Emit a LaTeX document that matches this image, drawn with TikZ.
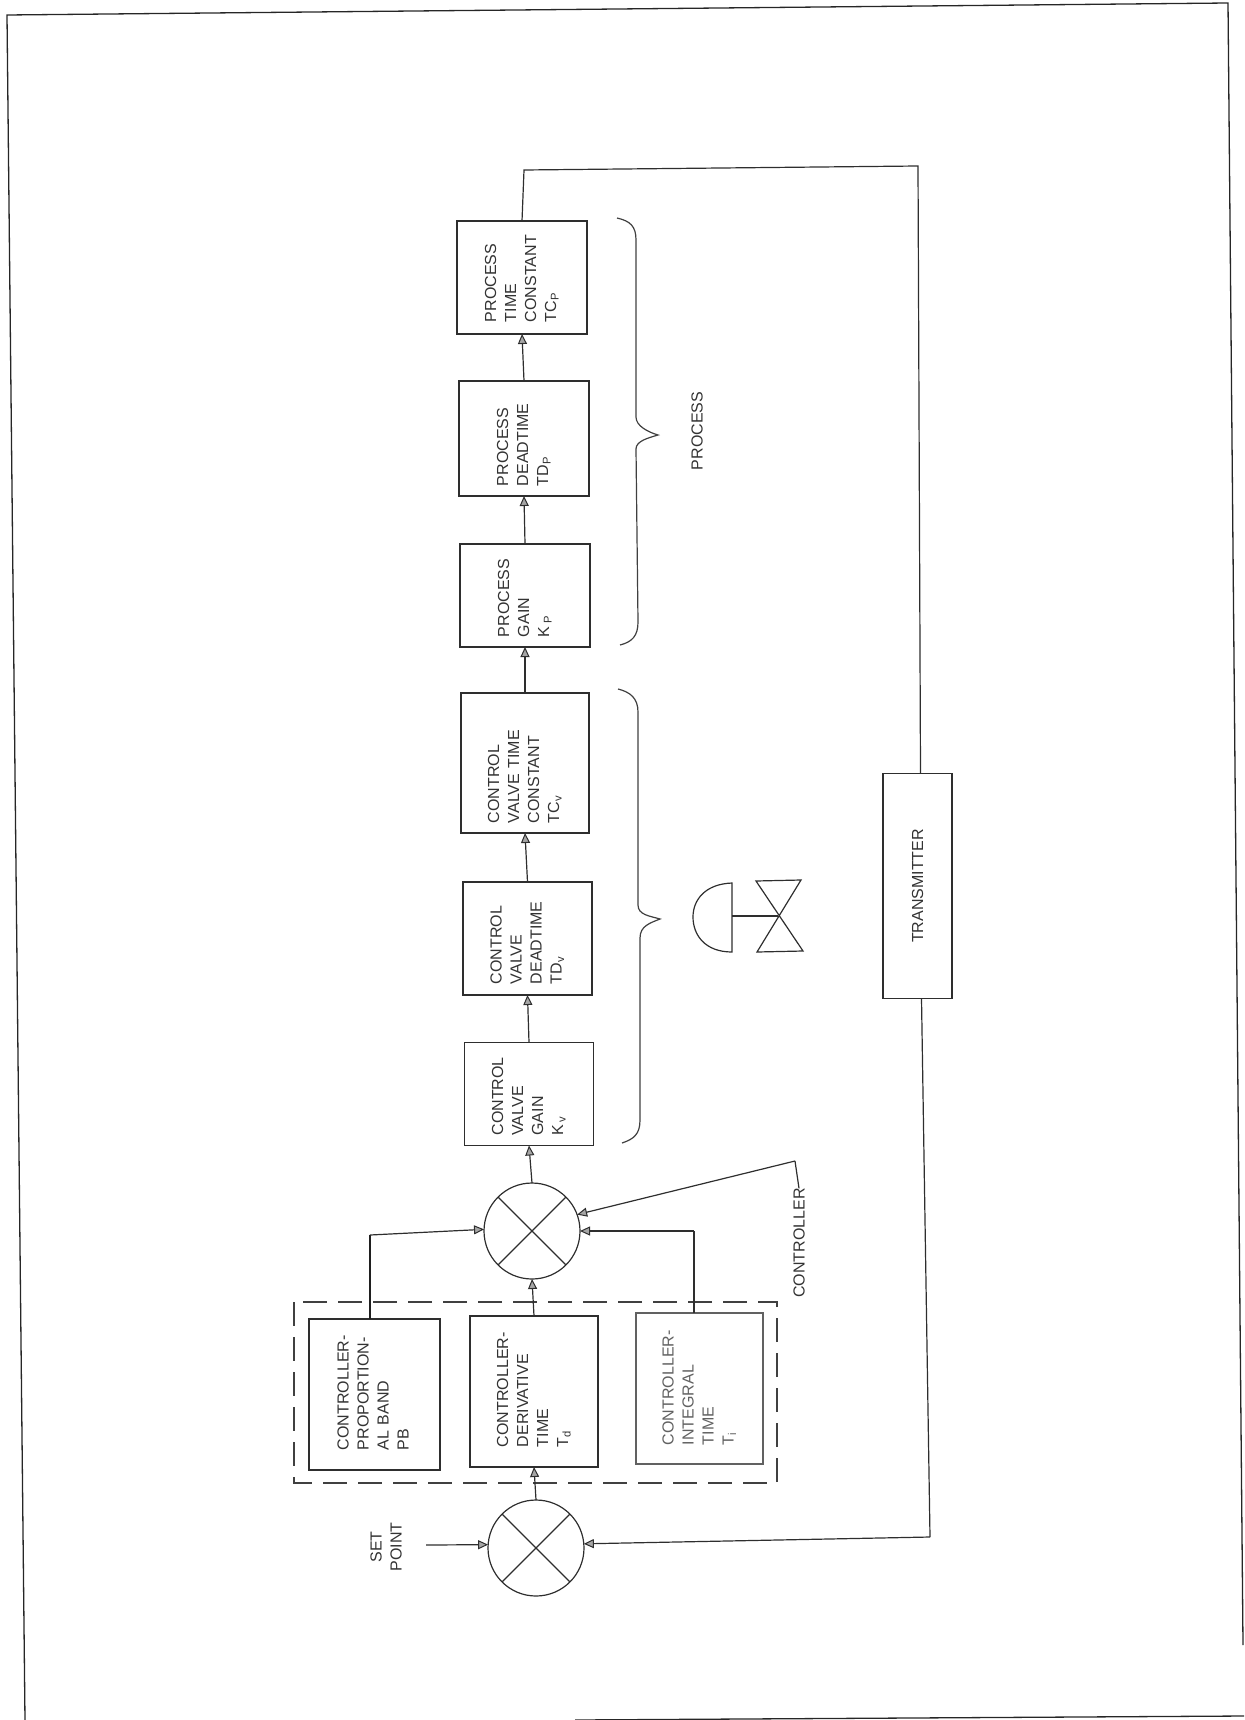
\documentclass[tikz,border=0pt]{standalone}
\usepackage{fontspec}
\setmainfont{Liberation Sans}
\usetikzlibrary{arrows.meta}
\newcommand\blklines[2]{\hspace*{#1pt}\begin{tabular}{@{}l@{}}#2\end{tabular}}
\tikzset{
  ink/.style={draw=black!82,line width=1.2pt},
  blk/.style 2 args={ink,rotate=90,minimum width=#1,minimum height=#2,text width=#1-4pt,
    inner xsep=2pt,inner ysep=0pt,outer sep=0pt,align=left,text=black!80,
    font=\fontsize{16}{20}\selectfont},
  blkfaint/.style={draw=black!62,text=black!62},
  lbl/.style={rotate=90,align=center,inner sep=0pt,outer sep=0pt,text=black!80,
    font=\fontsize{16}{20}\selectfont},
  sumj/.style={ink,circle,minimum size=96pt,inner sep=0pt,outer sep=0pt},
  arr/.style={ink,-{Triangle[length=10pt,width=9pt,line width=1pt,fill=black!35]}},
  wire/.style={ink},
  thickwire/.style={draw=black!88,line width=1.8pt},
  dashbox/.style={draw=black!75,line width=1.3pt,dash pattern=on 24pt off 11pt},
  frameline/.style={draw=black!85,line width=1.3pt},
  brace/.style={draw=black!75,line width=1.2pt}
}
\begin{document}
\begin{tikzpicture}[x=1pt,y=-1pt]
\useasboundingbox (0,0) rectangle (1244,1720);
% sheet edge
\coordinate (f1) at (7,15); \coordinate (f2) at (1228,3); \coordinate (f3) at (1243,1645);
\coordinate (f4) at (25,1720); \coordinate (f5) at (575,1720); \coordinate (f6) at (1244,1716);
\draw[frameline] (f4) -- (f1) -- (f2) -- (f3);
\draw[frameline] (f5) -- (f6);
% controller group
\coordinate (d1) at (294,1302); \coordinate (d2) at (777,1483);
\draw[dashbox] (d1) rectangle (d2);
% summing junctions
\node[sumj] (s1) at (536,1548) {};
\node[sumj] (s2) at (532,1231) {};
\draw[wire] (s1.45) -- (s1.225); \draw[wire] (s1.135) -- (s1.315);
\draw[wire] (s2.45) -- (s2.225); \draw[wire] (s2.135) -- (s2.315);
% controller blocks
\node[blk={151pt}{131pt}] (pb) at (374.5,1394.5) {\blklines{18}{CONTROLLER-\\PROPORTION-\\AL BAND\\PB}};
\node[blk={151pt}{128pt}] (td) at (534,1391.5) {\blklines{18}{CONTROLLER-\\DERIVATIVE\\TIME\\T\textsubscript{d}}};
\node[blk={151pt}{127pt},blkfaint] (ti) at (699.5,1388.5) {\blklines{17}{CONTROLLER-\\INTEGRAL\\TIME\\T\textsubscript{i}}};
% valve blocks
\node[blk={103pt}{129pt}] (kv) at (529,1094) {\blklines{8}{CONTROL\\VALVE\\GAIN\\K\,\textsubscript{v}}};
\node[blk={113pt}{129pt}] (tdv) at (527.5,938.5) {\blklines{9}{CONTROL\\VALVE\\DEADTIME\\TD\textsubscript{v}}};
\node[blk={140pt}{128pt}] (tcv) at (525,763) {\blklines{8}{CONTROL\\VALVE TIME\\CONSTANT\\TC\textsubscript{v}}};
% process blocks
\node[blk={103pt}{130pt}] (kp) at (525,595.5) {\blklines{8}{PROCESS\\GAIN\\K\,\textsubscript{P}}};
\node[blk={115pt}{130pt}] (tdp) at (524,438.5) {\blklines{8}{PROCESS\\DEADTIME\\TD\textsubscript{P}}};
\node[blk={113pt}{130pt}] (tcp) at (522,277.5) {\blklines{10}{PROCESS\\TIME\\CONSTANT\\TC\textsubscript{P}}};
% transmitter and labels
\node[ink,rotate=90,minimum width=225pt,minimum height=69pt,inner sep=0pt,outer sep=0pt,text=black!80,font=\fontsize{16}{20}\selectfont] (tr) at (917.5,886) {TRANSMITTER};
\node[lbl] (sp) at (386,1547) {SET\\POINT};
\node[lbl] (ctl) at (799,1243) {CONTROLLER};
\node[lbl] (proc) at (697,431) {PROCESS};
% connectors
\coordinate (spin) at (426,1545);
\draw[arr] (spin) -- (s1.176);
\draw[arr] (s1.north) -- (td.west);
\draw[arr] (td.east) -- (s2.south);
\coordinate (pbc) at (370,1235);
\draw[thickwire] ([xshift=-4.5pt]pb.east) -- (pbc);
\draw[arr] (pbc) -- (s2.178);
\coordinate (tic) at (694,1231);
\draw[wire] ([xshift=-5.5pt]ti.east) -- (tic);
\draw[arr] (tic) -- (s2.east);
\coordinate (cc) at (795,1161);
\draw[wire] (ctl.east) -- (cc);
\draw[arr] (cc) -- (s2.20);
\draw[arr] (s2.north) -- (kv.west);
\draw[arr] (kv.east) -- (tdv.west);
\draw[arr] (tdv.east) -- (tcv.west);
\draw[arr] (tcv.east) -- (kp.west);
\draw[arr] (kp.east) -- (tdp.west);
\draw[arr] (tdp.east) -- (tcp.west);
\coordinate (fb1) at (524,170); \coordinate (fb2) at (918,166);
\draw[wire] (tcp.east) -- (fb1) -- (fb2) -- ([xshift=3pt]tr.east);
\coordinate (fb3) at (930,1537);
\draw[wire] ([xshift=4pt]tr.west) -- (fb3);
\draw[arr] (fb3) -- (s1.5);
% braces
\draw[brace] (622,1143) .. controls (634,1139) and (640,1134) .. (640,1120) -- (640,938)
  .. controls (640,926) and (650,923) .. (660,919) .. controls (650,916) and (638,915) .. (638,905)
  -- (638,712) .. controls (638,698) and (630,692) .. (618,689);
\draw[brace] (620,645) .. controls (632,642) and (638,636) .. (638,622) -- (636,449)
  .. controls (636,441) and (648,438) .. (658,435) .. controls (648,432) and (636,426) .. (636,417)
  -- (636,240) .. controls (636,226) and (630,221) .. (617,218);
% valve symbol
\draw[wire] (732,883) .. controls (705,884) and (693,900) .. (693,917) .. controls (693,935) and (705,952) .. (732,952) -- cycle;
\draw[wire] (732,916) -- (778,916);
\draw[wire] (756,881) -- (801,880) -- (757,952) -- (803,951) -- cycle;
\end{tikzpicture}
\end{document}
